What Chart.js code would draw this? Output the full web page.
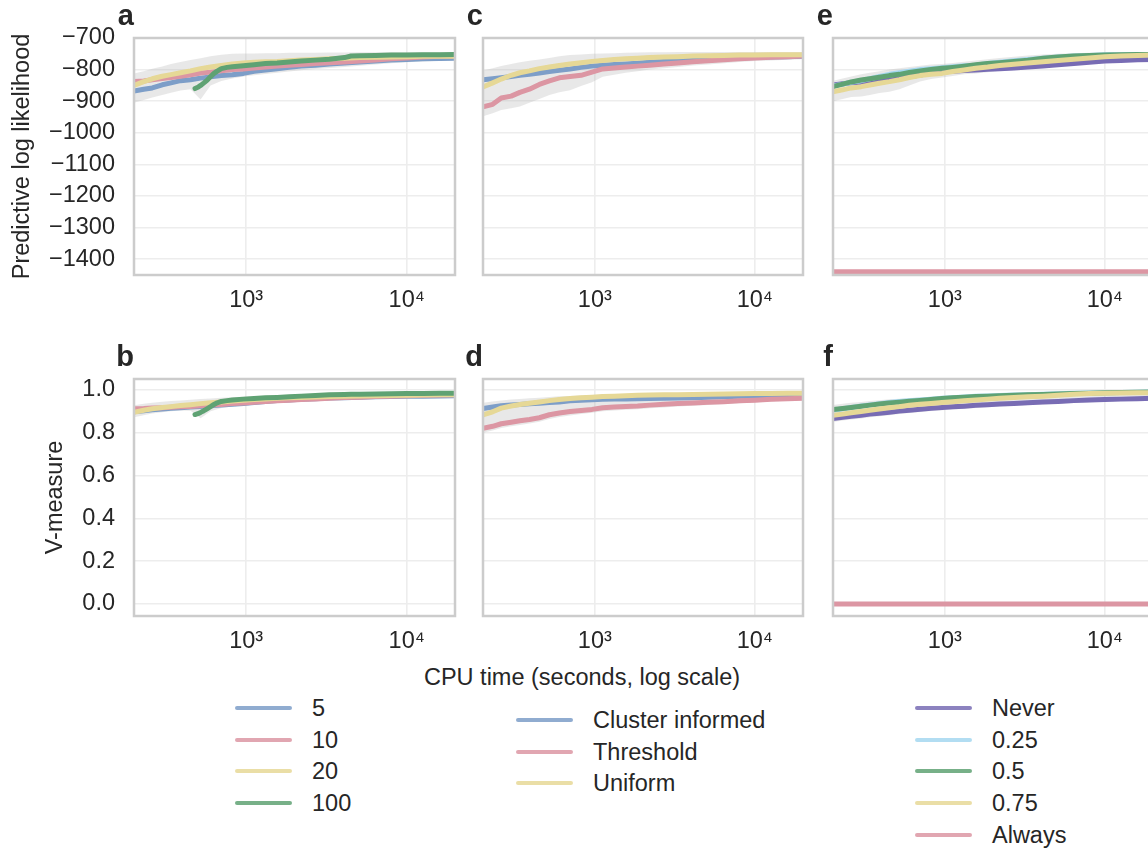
<!DOCTYPE html>
<html><head><meta charset="utf-8">
<script src="https://cdn.jsdelivr.net/npm/chart.js@4.4.0/dist/chart.umd.min.js"></script>
<style>
html,body{margin:0;padding:0;width:1148px;height:848px;overflow:hidden;background:#fff;font-family:"Liberation Sans",Arial,Helvetica,sans-serif;color:#262626}
.panel{position:absolute}
.panel canvas{display:block}
.xtitle{position:absolute;left:582px;top:663px;transform:translateX(-50%);font-size:23.5px;line-height:28px;white-space:nowrap}
.legend{position:absolute}
.legend .row{display:flex;align-items:center;height:31.7px}
.legend .sw{width:57px;height:4px;border-radius:2px;opacity:0.85}
.legend .lab{margin-left:20px;font-size:23.5px;line-height:28px;white-space:nowrap}
</style></head><body>
<div class="xtitle">CPU time (seconds, log scale)</div>
<script>
// ---------- data ----------
const T = [200,230,260,300,340,390,450,520,600,700,820,960,1120,1320,1560,1850,2200,2700,3300,4100,5100,6400,8000,10000,12600,16000,20000];
const T100 = [480,500,520,545,570,600,630,660,700,760,820,960,1120,1320,1560,1850,2200,2700,3300,4100,4500,5100,6400,8000,10000,12600,16000,20000];
const TAlways = [200,20000];

const xTickValues = [1000,10000];
const xTickLabels = ['10\u00B3','10\u2074'];
const llTickValues = [-1400,-1300,-1200,-1100,-1000,-900,-800,-700];
const llTickLabels = ['\u22121400','\u22121300','\u22121200','\u22121100','\u22121000','\u2212900','\u2212800','\u2212700'];
const vmTickValues = [0,0.2,0.4,0.6,0.8,1.0];
const vmTickLabels = ['0.0','0.2','0.4','0.6','0.8','1.0'];

const legendSize = ['5','10','20','100'];
const legendMethod = ['Cluster informed','Threshold','Uniform'];
const legendFreq = ['Never','0.25','0.5','0.75','Always'];

// panel a: predictive log likelihood, batch size
const a5   = [-868,-862,-858,-848,-842,-835,-832,-827,-823,-819,-816,-812,-805,-801,-797,-793,-789,-786,-782,-779,-776,-773,-770,-768,-766,-765,-764];
const a10  = [-838,-836,-832,-828,-825,-821,-816,-811,-808,-804,-800,-798,-795,-792,-789,-786,-784,-781,-778,-776,-773,-770,-766,-763,-760,-758,-757];
const a20  = [-850,-838,-829,-821,-816,-810,-804,-797,-792,-787,-782,-779,-777,-775,-774,-772,-770,-768,-766,-764,-762,-761,-760,-759,-758,-758,-758];
const a100 = [-860,-856,-850,-842,-834,-822,-812,-805,-797,-793,-791,-788,-785,-781,-779,-776,-773,-770,-767,-762,-757,-756,-755,-754,-754,-753,-753,-752];
const aBandUp = [-812,-805,-797,-790,-782,-776,-770,-764,-758,-753,-750,-749,-749,-748,-748,-747,-747,-747,-746,-746,-745,-745,-745,-745,-745,-745,-745];
const aBandLo = [-905,-896,-888,-880,-873,-866,-862,-895,-850,-836,-828,-822,-818,-814,-810,-806,-802,-798,-795,-792,-788,-784,-780,-777,-774,-772,-770];

// panel b: V-measure, batch size
const b5   = [0.898,0.903,0.907,0.911,0.914,0.917,0.920,0.923,0.926,0.929,0.933,0.937,0.941,0.946,0.950,0.953,0.956,0.959,0.962,0.964,0.966,0.968,0.969,0.970,0.971,0.972,0.973];
const b10  = [0.912,0.913,0.915,0.917,0.919,0.921,0.923,0.926,0.929,0.932,0.936,0.939,0.942,0.946,0.949,0.952,0.955,0.958,0.961,0.964,0.966,0.969,0.971,0.973,0.975,0.976,0.977];
const b20  = [0.895,0.905,0.912,0.918,0.922,0.927,0.931,0.936,0.940,0.944,0.948,0.952,0.955,0.958,0.961,0.963,0.965,0.967,0.969,0.971,0.972,0.973,0.974,0.975,0.976,0.977,0.977];
const b100 = [0.885,0.889,0.895,0.903,0.912,0.922,0.932,0.940,0.946,0.950,0.953,0.957,0.960,0.963,0.965,0.968,0.971,0.974,0.977,0.979,0.980,0.980,0.981,0.982,0.983,0.983,0.984,0.984];
const bBandUp = [0.928,0.935,0.940,0.945,0.948,0.951,0.954,0.957,0.960,0.963,0.966,0.968,0.970,0.972,0.974,0.976,0.978,0.980,0.982,0.984,0.986,0.987,0.988,0.989,0.990,0.990,0.990];
const bBandLo = [0.872,0.882,0.890,0.896,0.900,0.904,0.903,0.868,0.900,0.915,0.922,0.927,0.931,0.936,0.940,0.944,0.947,0.950,0.953,0.956,0.959,0.961,0.963,0.964,0.965,0.966,0.967];

// panel c: predictive log likelihood, split-merge proposal
const cCI = [-832,-829,-826,-822,-818,-815,-811,-806,-802,-798,-793,-789,-786,-784,-782,-780,-777,-774,-772,-769,-767,-765,-763,-762,-760,-759,-758];
const cTh = [-918,-910,-890,-884,-872,-862,-847,-836,-826,-822,-818,-808,-798,-795,-792,-789,-786,-782,-779,-775,-772,-769,-766,-763,-761,-759,-757];
const cUn = [-855,-842,-830,-818,-810,-804,-797,-792,-787,-782,-778,-774,-771,-768,-766,-764,-762,-760,-759,-757,-756,-755,-754,-754,-753,-753,-753];
const cBandUp = [-803,-796,-789,-782,-777,-772,-768,-763,-758,-754,-752,-750,-749,-748,-747,-746,-745,-745,-744,-744,-744,-744,-744,-744,-744,-744,-744];
const cBandLo = [-948,-938,-928,-922,-917,-905,-893,-880,-872,-865,-852,-840,-823,-816,-810,-805,-800,-796,-792,-787,-784,-780,-776,-773,-771,-769,-767];

// panel d: V-measure, split-merge proposal
const dCI = [0.913,0.920,0.926,0.930,0.932,0.935,0.938,0.941,0.944,0.949,0.952,0.954,0.956,0.957,0.958,0.959,0.960,0.961,0.962,0.964,0.966,0.968,0.970,0.972,0.975,0.978,0.980];
const dTh = [0.821,0.830,0.842,0.849,0.856,0.862,0.870,0.884,0.892,0.899,0.904,0.909,0.917,0.920,0.923,0.925,0.929,0.933,0.936,0.939,0.942,0.945,0.949,0.952,0.956,0.959,0.961];
const dUn = [0.883,0.898,0.915,0.925,0.932,0.938,0.944,0.950,0.955,0.960,0.963,0.966,0.969,0.971,0.973,0.975,0.976,0.977,0.978,0.979,0.980,0.981,0.982,0.983,0.983,0.984,0.984];
const dBandUp = [0.940,0.946,0.951,0.955,0.958,0.961,0.964,0.967,0.970,0.972,0.974,0.976,0.977,0.978,0.979,0.980,0.981,0.982,0.983,0.984,0.985,0.986,0.987,0.988,0.989,0.990,0.991];
const dBandLo = [0.800,0.810,0.822,0.830,0.836,0.843,0.851,0.864,0.873,0.881,0.887,0.893,0.900,0.904,0.907,0.910,0.914,0.918,0.922,0.926,0.930,0.934,0.938,0.942,0.946,0.949,0.952];

// panel e: predictive log likelihood, move frequency
const eNever  = [-849,-845,-842,-840,-838,-836,-834,-829,-823,-817,-812,-807,-805,-803,-801,-799,-797,-795,-792,-789,-785,-781,-777,-773,-771,-769,-768];
const e025    = [-852,-846,-840,-835,-829,-822,-815,-810,-805,-800,-797,-794,-791,-788,-786,-781,-777,-772,-768,-764,-760,-757,-755,-753,-753,-752,-752];
const e05     = [-854,-846,-839,-833,-829,-824,-819,-815,-809,-804,-800,-796,-793,-789,-785,-781,-778,-774,-770,-764,-760,-757,-755,-754,-753,-752,-752];
const e075    = [-870,-864,-858,-854,-849,-843,-838,-832,-825,-819,-815,-812,-806,-801,-796,-792,-787,-783,-779,-775,-771,-767,-763,-759,-757,-755,-754];
const eAlways = [-1440,-1440];
const eBandUp = [-835,-828,-822,-815,-810,-805,-800,-796,-792,-788,-784,-782,-779,-775,-771,-767,-763,-759,-755,-752,-750,-748,-747,-746,-745,-745,-745];
const eBandLo = [-900,-893,-887,-885,-880,-874,-870,-862,-850,-838,-830,-825,-820,-815,-812,-808,-804,-800,-795,-790,-787,-783,-780,-776,-773,-771,-770];

// panel f: V-measure, move frequency
const fNever  = [0.866,0.872,0.877,0.882,0.887,0.891,0.896,0.901,0.905,0.910,0.914,0.918,0.921,0.924,0.928,0.931,0.934,0.937,0.940,0.943,0.946,0.950,0.953,0.955,0.957,0.959,0.961];
const f025    = [0.905,0.912,0.918,0.925,0.930,0.936,0.941,0.946,0.950,0.953,0.957,0.961,0.964,0.967,0.970,0.972,0.974,0.976,0.978,0.980,0.982,0.984,0.986,0.987,0.988,0.989,0.990];
const f05     = [0.908,0.913,0.918,0.924,0.929,0.934,0.939,0.943,0.947,0.951,0.955,0.960,0.963,0.966,0.969,0.971,0.973,0.975,0.977,0.979,0.981,0.983,0.985,0.987,0.988,0.989,0.990];
const f075    = [0.881,0.887,0.893,0.899,0.905,0.911,0.917,0.922,0.928,0.933,0.937,0.941,0.945,0.949,0.953,0.957,0.961,0.965,0.968,0.971,0.975,0.980,0.983,0.985,0.986,0.987,0.987];
const fAlways = [0,0];
const fBandUp = [0.930,0.935,0.940,0.944,0.948,0.952,0.956,0.959,0.962,0.965,0.968,0.971,0.973,0.975,0.977,0.979,0.981,0.983,0.985,0.987,0.989,0.991,0.993,0.994,0.995,0.995,0.995];
const fBandLo = [0.850,0.857,0.862,0.867,0.872,0.877,0.882,0.887,0.892,0.897,0.901,0.905,0.909,0.912,0.916,0.920,0.923,0.926,0.929,0.932,0.935,0.939,0.942,0.945,0.948,0.951,0.954];

// ---------- styles ----------
const COL = {
  blue:'rgb(125,158,200)', pink:'rgb(220,150,163)', yellow:'rgb(230,216,150)',
  green:'rgb(95,162,115)', purple:'rgb(120,108,180)', lightblue:'rgb(165,215,240)'
};
const BAND = 'rgba(180,180,180,0.3)';
const FONT = '"Liberation Sans", Arial, Helvetica, sans-serif';
const TXT = '#262626';

const panels = [
  {letter:'a', box:[134,38,455,275], ll:true,  showY:true,  yTitle:'Predictive log likelihood', yTitlePad:8,
   band:[T,aBandUp,aBandLo], series:[[T,a5,'blue'],[T,a10,'pink'],[T,a20,'yellow'],[T100,a100,'green']]},
  {letter:'b', box:[134,379,455,616], ll:false, showY:true,  yTitle:'V-measure', yTitlePad:41,
   band:[T,bBandUp,bBandLo], series:[[T,b5,'blue'],[T,b10,'pink'],[T,b20,'yellow'],[T100,b100,'green']]},
  {letter:'c', box:[483,38,803,275], ll:true,  showY:false,
   band:[T,cBandUp,cBandLo], series:[[T,cCI,'blue'],[T,cTh,'pink'],[T,cUn,'yellow']]},
  {letter:'d', box:[483,379,803,616], ll:false, showY:false,
   band:[T,dBandUp,dBandLo], series:[[T,dCI,'blue'],[T,dTh,'pink'],[T,dUn,'yellow']]},
  {letter:'e', box:[833,38,1153,275], ll:true,  showY:false,
   band:[T,eBandUp,eBandLo], series:[[T,eNever,'purple'],[T,e025,'lightblue'],[T,e05,'green'],[T,e075,'yellow'],[TAlways,eAlways,'pink']]},
  {letter:'f', box:[833,379,1153,616], ll:false, showY:false,
   band:[T,fBandUp,fBandLo], series:[[T,fNever,'purple'],[T,f025,'lightblue'],[T,f05,'green'],[T,f075,'yellow'],[TAlways,fAlways,'pink']]}
];

function pts(ts, vs){ return ts.map((t,i)=>({x:t, y:vs[i]})); }

const framePlugin = {
  id:'frame',
  afterDraw(chart, args, o){
    const {ctx, chartArea:a} = chart;
    ctx.save();
    ctx.strokeStyle = '#cccccc';
    ctx.lineWidth = 2.5;
    ctx.strokeRect(a.left, a.top, a.right-a.left, a.bottom-a.top);
    ctx.fillStyle = TXT;
    ctx.font = 'bold 29px ' + FONT;
    ctx.textAlign = 'right';
    ctx.textBaseline = 'alphabetic';
    ctx.fillText(o.letter, a.left, a.top - 13);
    ctx.restore();
  }
};

const PAD_TOP = 38, PAD_RIGHT = 12, X_H = 50;

panels.forEach(p => {
  const [L,Tp,R,B] = p.box;
  const yW = p.showY ? L : 36;
  const div = document.createElement('div');
  div.className = 'panel';
  div.style.left = (L - yW) + 'px';
  div.style.top = (Tp - PAD_TOP) + 'px';
  div.style.width = (yW + (R-L) + PAD_RIGHT) + 'px';
  div.style.height = (PAD_TOP + (B-Tp) + X_H) + 'px';
  const cv = document.createElement('canvas');
  div.appendChild(cv);
  document.body.appendChild(div);

  const n = p.series.length;
  const datasets = [
    {data: pts(p.band[0], p.band[1]), fill:'+1', backgroundColor:BAND, borderWidth:0, pointRadius:0, order:100},
    {data: pts(p.band[0], p.band[2]), fill:false, borderWidth:0, pointRadius:0, order:101}
  ];
  p.series.forEach((s,i) => {
    datasets.push({data: pts(s[0], s[1]), borderColor: COL[s[2]], borderWidth:5,
      borderCapStyle:'round', borderJoinStyle:'round', pointRadius:0, fill:false, tension:0, order: n - i});
  });

  const tv = p.ll ? llTickValues : vmTickValues;
  const tl = p.ll ? llTickLabels : vmTickLabels;

  new Chart(cv, {
    type:'line',
    data:{datasets},
    plugins:[framePlugin],
    options:{
      responsive:true, maintainAspectRatio:false, animation:false,
      layout:{padding:{top:PAD_TOP, right:PAD_RIGHT, left:0, bottom:0}},
      plugins:{legend:{display:false}, tooltip:{enabled:false}, frame:{letter:p.letter}},
      scales:{
        x:{type:'logarithmic', min:200, max:20000,
           afterBuildTicks: ax => { ax.ticks = xTickValues.map(v=>({value:v})); },
           afterFit: ax => { ax.height = X_H; },
           grid:{color:'#ededed', lineWidth:1.6, drawTicks:false},
           border:{display:false},
           ticks:{padding:11, color:TXT, font:{family:FONT, size:23.5}, maxRotation:0,
                  callback:(v,i)=>xTickLabels[i]}},
        y:{type:'linear', min: p.ll ? -1450 : -0.056, max: p.ll ? -700 : 1.051,
           afterBuildTicks: ax => { ax.ticks = tv.map(v=>({value:v})); },
           afterFit: ax => { ax.width = yW; },
           grid:{color:'#ededed', lineWidth:1.6, drawTicks:false},
           border:{display:false},
           title:{display:!!p.yTitle, text:p.yTitle||'', color:TXT, font:{family:FONT, size:23.5}, padding:{top:p.yTitlePad||0, bottom:0}},
           ticks:{display:p.showY, padding:19, color:TXT, font:{family:FONT, size:23.5},
                  callback:(v,i)=>tl[i]}}
      }
    }
  });
});

// ---------- legends ----------
function legend(names, colors, left, top){
  const d = document.createElement('div');
  d.className = 'legend';
  d.style.left = left + 'px';
  d.style.top = top + 'px';
  names.forEach((nm,i) => {
    const r = document.createElement('div'); r.className = 'row';
    const sw = document.createElement('div'); sw.className = 'sw'; sw.style.background = COL[colors[i]];
    const lb = document.createElement('div'); lb.className = 'lab'; lb.textContent = nm;
    r.appendChild(sw); r.appendChild(lb); d.appendChild(r);
  });
  document.body.appendChild(d);
}
legend(legendSize, ['blue','pink','yellow','green'], 235, 692);
legend(legendMethod, ['blue','pink','yellow'], 516, 704);
legend(legendFreq, ['purple','lightblue','green','yellow','pink'], 915, 692);
</script>
</body></html>
